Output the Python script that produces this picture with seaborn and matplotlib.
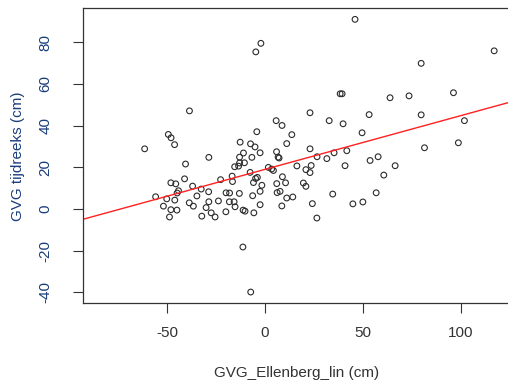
import numpy as np
import pandas as pd
import matplotlib
matplotlib.use("Agg")
import matplotlib.pyplot as plt
import seaborn as sns

# ==========================================
# 1. DATA
# ==========================================
gvg_ellenberg = [
    46.1, -4.6, -2.0, 117.2, 79.9, 38.5, 39.5, 96.4, 73.7, 64.0,
    53.3, 79.9, 40.0, 102.0, 49.7, 41.9, 81.6, 98.9, 53.8, 57.9,
    41.0, 66.6, 60.8, 56.9, 45.0, 50.1, 23.1, 32.9, 23.1, 26.7,
    31.7, 35.4, 23.7, 23.1, 34.7, 24.3, 26.6, -28.6, -4.1, 5.8,
    8.8, 13.8, 11.2, -12.6, -7.3, -5.0, -2.4, 6.0, 6.8, 7.3,
    -10.9, -12.9, -6.6, -38.5, -49.3, -47.9, -46.1, -61.4, -40.5, -41.0,
    -48.0, -45.5, -36.9, -32.5, -28.7, -44.1, -44.8, -55.8, -50.1, -46.0,
    -34.7, -28.6, -30.0, -23.7, -38.6, -36.5, -51.8, -48.0, -44.9, -48.7,
    -27.4, -32.2, -25.4, -19.9, -22.6, -16.7, -19.8, -18.0, -12.9, -15.4,
    -10.4, -13.4, -7.5, -16.5, -4.7, -3.8, -5.8, 1.8, 3.5, 4.4,
    9.0, 6.1, 10.6, -1.5, -2.4, 7.8, 6.3, 16.4, 21.0, 19.7,
    21.0, 14.3, 11.2, 8.7, -2.4, -6.2, -5.6, -13.0, -11.1, -10.1,
    -15.2, -18.1, -15.7, -11.2, -7.2,
]
gvg_tijdreeks = [
    91.0, 75.4, 79.5, 75.9, 69.9, 55.3, 55.3, 55.8, 54.3, 53.4,
    45.3, 45.2, 40.9, 42.4, 36.6, 28.0, 29.4, 31.8, 23.3, 25.1,
    20.8, 20.8, 16.3, 7.8, 2.5, 3.4, 46.2, 42.4, 28.9, 25.1,
    24.2, 27.0, 20.9, 17.5, 7.2, 2.6, -4.3, 24.8, 37.1, 42.4,
    40.1, 35.7, 31.4, 32.1, 31.3, 29.8, 27.0, 27.5, 24.9, 24.5,
    26.9, 24.9, 24.8, 47.1, 35.8, 34.2, 30.9, 28.9, 21.6, 14.5,
    12.6, 12.1, 11.0, 9.6, 8.3, 8.8, 7.7, 5.9, 4.9, 4.3,
    6.3, 3.5, 0.7, 3.9, 3.0, 1.4, 1.4, -0.3, -0.5, -3.8,
    -1.8, -3.4, -3.8, -1.3, 14.1, 15.8, 7.8, 7.7, 22.1, 20.3,
    22.2, 20.6, 17.6, 13.2, 14.7, 15.2, 12.7, 20.0, 19.2, 18.5,
    15.5, 12.2, 12.6, 11.4, 8.5, 8.5, 7.9, 20.7, 18.9, 12.5,
    10.9, 5.8, 5.3, 1.5, 2.1, 6.4, -1.8, 7.5, -0.5, -1.0,
    1.1, 3.5, 3.5, -18.2, -39.8,
]

x_ticks = [-50, 0, 50, 100]
y_ticks = [-40, -20, 0, 20, 40, 60, 80]

df = pd.DataFrame({"ellenberg": gvg_ellenberg, "tijdreeks": gvg_tijdreeks})

# lineaire fit (zoals abline(lm(...)) in R)
slope, intercept = np.polyfit(df["ellenberg"], df["tijdreeks"], 1)

# ==========================================
# 2. PLOT
# ==========================================
sns.set_style("white")
plt.rcParams["font.family"] = ["Liberation Sans", "DejaVu Sans"]
plt.rcParams["axes.unicode_minus"] = False  # R tekent een gewoon streepje

fig = plt.figure(figsize=(5.08, 3.88), dpi=100)
ax = fig.add_axes([83 / 508, 1 - 303.3 / 388, 428 / 508, 295 / 388])

sns.scatterplot(data=df, x="ellenberg", y="tijdreeks", ax=ax,
                marker="o", s=17, facecolor="none", edgecolor="#2b2b2b",
                linewidth=0.8, legend=False)

ax.axline((0, intercept), slope=slope, color="#ff2020", linewidth=1.0)

ax.set_xlim(-92.9, 125.8)
ax.set_ylim(-45.2, 96.3)
ax.set_xticks(x_ticks)
ax.set_yticks(y_ticks)
ax.set_yticklabels([str(v) for v in y_ticks], rotation=90, va="center")

ax.tick_params(axis="both", bottom=True, left=True, direction="out",
               length=7, width=0.8, color="#333333", labelsize=11, pad=9)
ax.tick_params(axis="x", labelcolor="#333333")
ax.tick_params(axis="y", labelcolor="#1a3d7c", pad=15)

for sp in ax.spines.values():
    sp.set_color("#333333")
    sp.set_linewidth(0.9)

ax.set_xlabel("GVG_Ellenberg_lin (cm)", fontsize=11, color="#333333", labelpad=19)
ax.set_ylabel("GVG tijdreeks (cm)", fontsize=11, color="#1a3d7c", labelpad=10)

plt.savefig("out.png", dpi=100)
